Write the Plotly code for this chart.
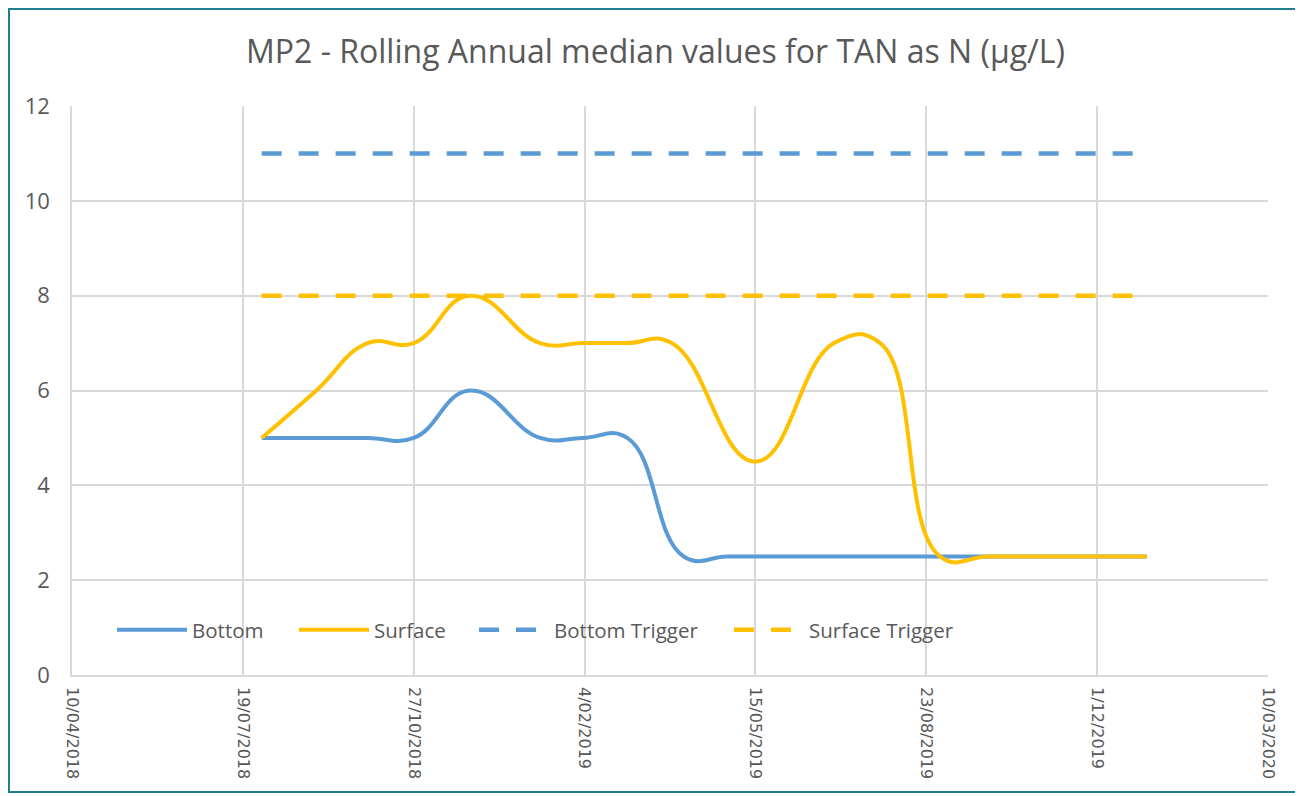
import plotly.graph_objects as go

# ---- data ----
surface_dates = ["2018-07-30", "2018-08-31", "2018-09-30", "2018-10-27", "2018-11-29",
                 "2019-01-09", "2019-02-03", "2019-03-01", "2019-03-27", "2019-05-15",
                 "2019-06-30", "2019-07-27", "2019-08-31", "2019-09-28", "2019-10-28",
                 "2019-11-29", "2019-12-30"]
surface = [5, 6, 7, 7, 8, 7, 7, 7, 7, 4.5, 7, 7, 2.5, 2.5, 2.5, 2.5, 2.5]

bottom_dates = ["2018-07-30", "2018-08-31", "2018-09-30", "2018-10-27", "2018-11-29",
                "2019-01-09", "2019-02-03", "2019-03-01", "2019-04-03", "2019-04-28",
                "2019-05-15", "2019-06-30", "2019-07-27", "2019-08-31", "2019-09-28",
                "2019-10-28", "2019-11-29", "2019-12-30"]
bottom = [5, 5, 5, 5, 6, 5, 5, 5, 2.5, 2.5, 2.5, 2.5, 2.5, 2.5, 2.5, 2.5, 2.5, 2.5]

trigger_dates = ["2018-07-30", "2019-12-30"]
bottom_trigger = [11, 11]
surface_trigger = [8, 8]

x_range = ["2018-04-10", "2020-03-10"]
title_text = "MP2 - Rolling Annual median values for TAN as N (µg/L)"

BLUE = "#5B9BD5"
GOLD = "#FFC000"
GRID = "#D9D9D9"
TXT = "#595959"

# page offset introduced by the html body margin
OFF = 8
W, H = 1295, 788
L, R, T, B = 64, 35, 98, 121
pw, ph = W - L - R, H - T - B


def px_x(p):  # page pixel -> paper x
    return (p - OFF - L) / pw


def px_y(p):  # page pixel -> paper y
    return (H - B - (p - OFF)) / ph


fig = go.Figure()
fig.add_trace(go.Scatter(x=bottom_dates, y=bottom, name="Bottom", mode="lines", legend="legend",
                         line=dict(color=BLUE, width=4, shape="spline", smoothing=1.3)))
fig.add_trace(go.Scatter(x=surface_dates, y=surface, name="Surface", mode="lines", legend="legend2",
                         line=dict(color=GOLD, width=4, shape="spline", smoothing=1.3)))
fig.add_trace(go.Scatter(x=trigger_dates, y=bottom_trigger, name="Bottom Trigger", mode="lines",
                         legend="legend3", line=dict(color=BLUE, width=4.5, dash="20px,17px")))
fig.add_trace(go.Scatter(x=trigger_dates, y=surface_trigger, name="Surface Trigger", mode="lines",
                         legend="legend4", line=dict(color=GOLD, width=4.5, dash="20px,17px")))

leg_font = dict(family="Open Sans", size=20.5, color=TXT)


def leg(xpage):
    return dict(orientation="h", x=px_x(xpage - 6), xanchor="left", y=px_y(630), yanchor="middle",
                bgcolor="rgba(0,0,0,0)", font=leg_font, itemwidth=70)


fig.update_layout(
    width=W, height=H,
    margin=dict(l=L, r=R, t=T, b=B),
    paper_bgcolor="white", plot_bgcolor="white",
    title=dict(text=title_text, x=0.5, xanchor="center", y=1 - (52 - OFF) / H, yanchor="middle",
               font=dict(family="Open Sans", size=32, color=TXT)),
    showlegend=True,
    legend=leg(118), legend2=leg(300), legend3=leg(480), legend4=leg(735),
    xaxis=dict(type="date", range=x_range, tick0="2018-04-10", dtick=100 * 86400000,
               tickformat="%-d/%m/%Y", tickangle=90, showgrid=True, gridcolor=GRID, gridwidth=1.5,
               showline=True, linecolor=GRID, linewidth=1.5, zeroline=False, ticks="",
               ticklabelstandoff=7,
               tickfont=dict(family="DejaVu Sans", size=16, color=TXT)),
    yaxis=dict(range=[0, 12], dtick=2, showgrid=True, gridcolor=GRID, gridwidth=1.5,
               showline=True, linecolor=GRID, linewidth=1.5, zeroline=False, ticks="",
               ticklabelstandoff=16,
               tickfont=dict(family="Open Sans", size=22, color=TXT)),
    shapes=[dict(type="rect", xref="paper", yref="paper",
                 x0=px_x(OFF + 1), x1=px_x(1297), y0=px_y(792), y1=px_y(OFF + 1),
                 line=dict(color="#1F7F8F", width=2), fillcolor="rgba(0,0,0,0)", layer="below")],
)

fig.write_html("out.html")
